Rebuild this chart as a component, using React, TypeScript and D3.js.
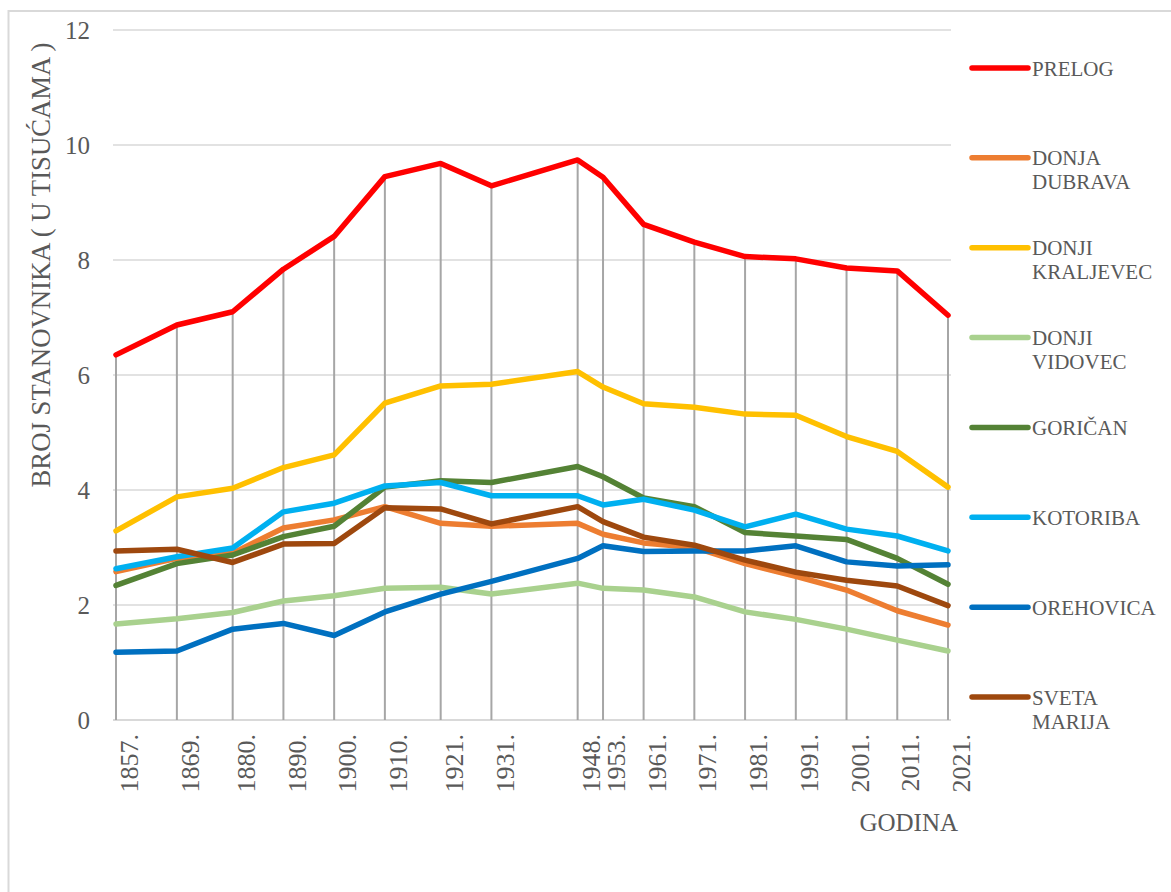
import React from "react";
import * as d3 from "d3";

const years = [1857, 1869, 1880, 1890, 1900, 1910, 1921, 1931, 1948, 1953, 1961, 1971, 1981, 1991, 2001, 2011, 2021];

const prelog = [6.35, 6.87, 7.1, 7.84, 8.41, 9.45, 9.68, 9.29, 9.74, 9.44, 8.62, 8.31, 8.06, 8.02, 7.86, 7.81, 7.04];
const donjaDubrava = [2.58, 2.81, 2.9, 3.34, 3.48, 3.71, 3.42, 3.37, 3.42, 3.23, 3.08, 3.0, 2.72, 2.5, 2.26, 1.9, 1.65];
const donjiKraljevec = [3.29, 3.88, 4.03, 4.39, 4.61, 5.51, 5.81, 5.84, 6.06, 5.79, 5.5, 5.44, 5.32, 5.3, 4.93, 4.67, 4.05];
const donjiVidovec = [1.67, 1.76, 1.87, 2.07, 2.16, 2.29, 2.31, 2.19, 2.38, 2.29, 2.26, 2.14, 1.88, 1.75, 1.58, 1.39, 1.2];
const gorican = [2.34, 2.72, 2.87, 3.19, 3.37, 4.05, 4.16, 4.13, 4.41, 4.23, 3.86, 3.71, 3.26, 3.2, 3.14, 2.81, 2.36];
const kotoriba = [2.63, 2.84, 2.99, 3.62, 3.77, 4.07, 4.13, 3.9, 3.9, 3.74, 3.84, 3.65, 3.36, 3.58, 3.32, 3.2, 2.94];
const orehovica = [1.18, 1.2, 1.58, 1.68, 1.47, 1.88, 2.19, 2.41, 2.81, 3.03, 2.93, 2.94, 2.94, 3.03, 2.75, 2.68, 2.7];
const svetaMarija = [2.94, 2.97, 2.74, 3.06, 3.07, 3.69, 3.67, 3.41, 3.71, 3.45, 3.18, 3.04, 2.78, 2.57, 2.43, 2.33, 1.99];

const seriesNames = [
  ["PRELOG"],
  ["DONJA", "DUBRAVA"],
  ["DONJI", "KRALJEVEC"],
  ["DONJI", "VIDOVEC"],
  ["GORIČAN"],
  ["KOTORIBA"],
  ["OREHOVICA"],
  ["SVETA", "MARIJA"],
];
const seriesColors = ["#ff0000", "#ed7d31", "#ffc000", "#a9d18e", "#548235", "#00b0f0", "#0070c0", "#9e480e"];
const seriesValues = [prelog, donjaDubrava, donjiKraljevec, donjiVidovec, gorican, kotoriba, orehovica, svetaMarija];

const yTicks = [0, 2, 4, 6, 8, 10, 12];

const W = 1171;
const H = 892;
const txt = { fontFamily: '"Liberation Serif", "Times New Roman", serif', fill: "#595959" };

export default function App() {
  const x = d3.scaleLinear().domain([1857, 2021]).range([116, 948]);
  const y = d3.scaleLinear().domain([0, 12]).range([720, 30]);
  const legendY = d3.scalePoint<number>().domain(d3.range(seriesNames.length)).range([68, 697]);

  const line = d3
    .line<number>()
    .x((_, i) => x(years[i]))
    .y((v) => y(v));

  const [x0, x1] = [x(1857) - 3, x(2021) + 3];

  return (
    <svg width={W} height={H} style={{ position: "absolute", left: 0, top: 0, display: "block" }}>
      <rect x={0} y={0} width={W} height={H} fill="#fff" />
      <rect x={8.5} y={11} width={W + 20} height={H + 20} fill="none" stroke="#d9d9d9" strokeWidth={2} />

      {/* horizontal gridlines */}
      {yTicks.map((t) => (
        <line key={t} x1={x0} x2={x1} y1={y(t)} y2={y(t)} stroke="#d9d9d9" strokeWidth={t === 0 ? 2 : 1.5} />
      ))}

      {/* drop lines from the top series */}
      {years.map((yr, i) => (
        <line key={yr} x1={x(yr)} x2={x(yr)} y1={y(prelog[i])} y2={y(0)} stroke="#a6a6a6" strokeWidth={2} />
      ))}

      {/* y tick labels */}
      {yTicks.map((t) => (
        <text key={t} x={90} y={y(t)} dy="0.35em" textAnchor="end" fontSize={25} style={txt}>
          {t}
        </text>
      ))}

      {/* x tick labels */}
      {years.map((yr) => (
        <text
          key={yr}
          transform={`translate(${x(yr) + 13},734) rotate(-90)`}
          dy="0.35em"
          textAnchor="end"
          fontSize={26}
          style={txt}
        >
          {yr}.
        </text>
      ))}

      <text
        transform="translate(41,265) rotate(-90)"
        dy="0.35em"
        textAnchor="middle"
        fontSize={27}
        textLength={445}
        lengthAdjust="spacingAndGlyphs"
        style={txt}
      >
        BROJ STANOVNIKA ( U TISUĆAMA )
      </text>

      <text x={958} y={831} textAnchor="end" fontSize={25} style={txt}>
        GODINA
      </text>

      {/* series */}
      {seriesValues.map((vals, i) => (
        <path
          key={i}
          d={line(vals) || ""}
          fill="none"
          stroke={seriesColors[i]}
          strokeWidth={5.5}
          strokeLinejoin="round"
          strokeLinecap="round"
        />
      ))}

      {/* legend */}
      {seriesNames.map((name, i) => {
        const ly = legendY(i) as number;
        return (
          <g key={i}>
            <line x1={972} x2={1028} y1={ly} y2={ly} stroke={seriesColors[i]} strokeWidth={5.5} strokeLinecap="round" />
            {name.map((part, j) => (
              <text key={j} x={1032} y={ly + 7.5 + j * 24} fontSize={21} style={txt}>
                {part}
              </text>
            ))}
          </g>
        );
      })}
    </svg>
  );
}
